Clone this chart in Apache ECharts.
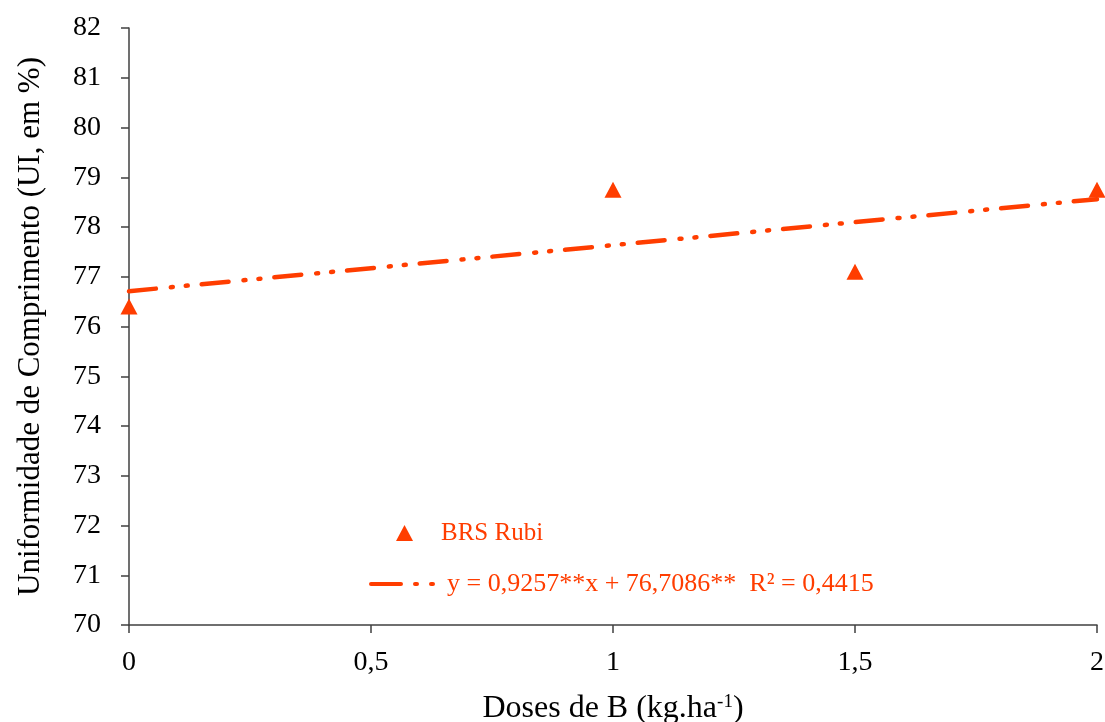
<!DOCTYPE html>
<html>
<head>
<meta charset="utf-8">
<script src="https://cdn.jsdelivr.net/npm/echarts@6/dist/echarts.min.js"></script>
<style>html,body{margin:0;padding:0;background:#fff}#c{width:1105px;height:722px}</style>
</head>
<body>
<div id="c"></div>
<script>
const doses = [0, 1, 1.5, 2];
const uniformidade = [76.4, 78.75, 77.1, 78.75];
const trendX = [0, 2];
const trendY = [76.71, 78.56];
const seriesName = 'BRS Rubi';
const trendName = 'y = 0,9257**x + 76,7086**  R² = 0,4415';
const xTickLabels = {0: '0', 0.5: '0,5', 1: '1', 1.5: '1,5', 2: '2'};

const color = '#ff3d00';
const axisColor = '#404040';
const font = "'Liberation Serif', serif";

const chart = echarts.init(document.getElementById('c'), null, {renderer: 'canvas'});
chart.setOption({
  animation: false,
  backgroundColor: '#fff',
  textStyle: {fontFamily: font},
  grid: {left: 129, right: 8, top: 28, bottom: 97, containLabel: false, outerBoundsMode: 'none'},
  legend: [
    {
      left: 391, top: 515,
      itemWidth: 17, itemHeight: 16,
      textStyle: {color: color, fontFamily: font, fontSize: 25, lineHeight: 26, padding: [0, 0, 0, 23]},
      data: [{name: seriesName, icon: 'triangle', itemStyle: {opacity: 1}}]
    },
    {
      left: 364, top: 565,
      itemWidth: 64, itemHeight: 16,
      textStyle: {color: color, fontFamily: font, fontSize: 26, lineHeight: 28, padding: [0, 0, 0, 7]},
      itemStyle: {opacity: 0},
      lineStyle: {width: 4, type: [30, 14, 2, 14, 2, 14], cap: 'round'},
      data: [{name: trendName}]
    }
  ],
  xAxis: {
    type: 'value', min: 0, max: 2, interval: 0.5,
    axisLine: {show: true, onZero: false, lineStyle: {color: axisColor, width: 1.5}},
    axisTick: {show: true, inside: false, length: 8, lineStyle: {color: axisColor, width: 1.5}},
    splitLine: {show: false},
    axisLabel: {color: '#000', fontFamily: font, fontSize: 28, margin: 24,
      formatter: v => xTickLabels[v] !== undefined ? xTickLabels[v] : String(v)},
    name: '{t|Doses de B (kg.ha}{s|-1}{t|)}',
    nameLocation: 'middle', nameGap: 68,
    nameTextStyle: {
      fontFamily: font,
      rich: {
        t: {fontFamily: font, fontSize: 32, color: '#000'},
        s: {fontFamily: font, fontSize: 19, color: '#000', verticalAlign: 'top', padding: [0, 0, 13, 0]}
      }
    }
  },
  yAxis: {
    type: 'value', min: 70, max: 82, interval: 1,
    axisLine: {show: true, lineStyle: {color: axisColor, width: 1.5}},
    axisTick: {show: true, inside: false, length: 8, lineStyle: {color: axisColor, width: 1.5}},
    splitLine: {show: false},
    axisLabel: {color: '#000', fontFamily: font, fontSize: 28, margin: 28},
    name: 'Uniformidade de Comprimento (UI, em %)',
    nameLocation: 'middle', nameGap: 83,
    nameTextStyle: {color: '#000', fontFamily: font, fontSize: 31}
  },
  series: [
    {
      name: trendName,
      type: 'line',
      data: trendX.map((x, i) => [x, trendY[i]]),
      symbol: 'none',
      lineStyle: {color: color, width: 4.5, type: [27, 15, 2, 13, 2, 14], cap: 'round'},
      itemStyle: {color: color},
      z: 2
    },
    {
      name: seriesName,
      type: 'scatter',
      data: doses.map((x, i) => [x, uniformidade[i]]),
      symbol: 'triangle',
      symbolSize: [17, 16],
      itemStyle: {color: color, opacity: 1},
      z: 3
    }
  ]
});
</script>
</body>
</html>
